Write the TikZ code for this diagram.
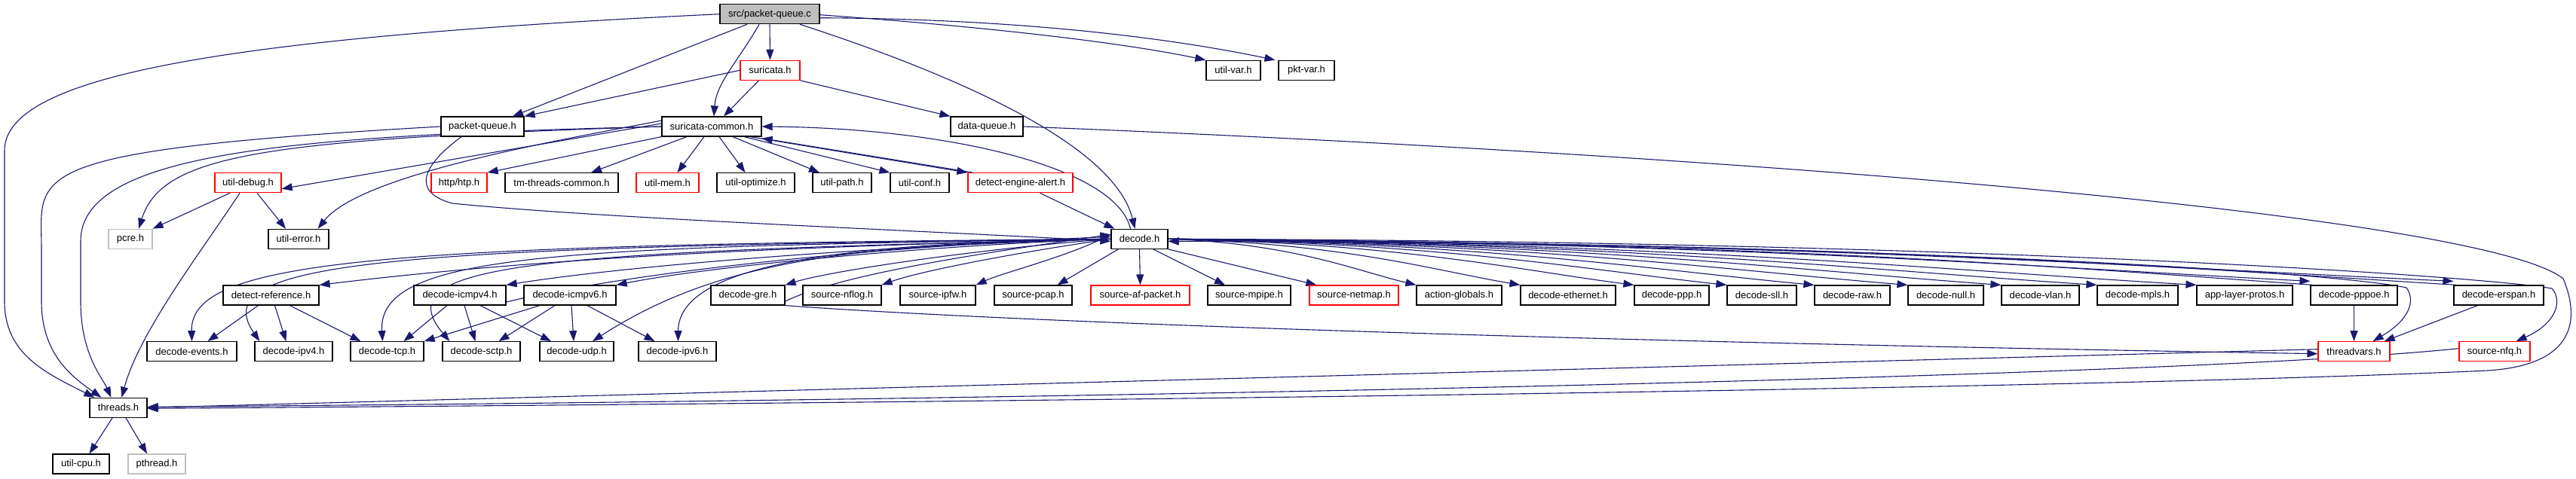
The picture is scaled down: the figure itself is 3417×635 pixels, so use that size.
\documentclass[tikz,border=0pt]{standalone}
\usepackage{fontspec}
\setmainfont{Liberation Sans}
\usetikzlibrary{arrows.meta}
\definecolor{edgecol}{HTML}{191970}
\definecolor{rootfill}{HTML}{BFBFBF}
\definecolor{extcol}{HTML}{BFBFBF}
\pgfdeclarelayer{bg}
\pgfsetlayers{bg,main}
\begin{document}
\begin{tikzpicture}[x=1pt,y=-1pt,
  box/.style={draw=black, line width=1.2pt, minimum height=26pt, inner sep=0pt, fill=white, font=\fontsize{13}{15}\selectfont},
  redbox/.style={box, draw=red},
  greybox/.style={box, draw=extcol},
  rootbox/.style={box, fill=rootfill},
  dep/.style={draw=edgecol, line width=1.1pt, -{Triangle[length=14pt,width=10pt]}},
]
\useasboundingbox (0,0) rectangle (3417,635);
% row 0
\node[rootbox, minimum width=132pt] (root) at (1021,18.7) {src/packet-queue.c};
% row 1
\node[redbox, minimum width=79pt] (suricata) at (1021.5,93.3) {suricata.h};
\node[box, minimum width=72pt] (utilvar) at (1636,93.3) {util-var.h};
\node[box, minimum width=74pt] (pktvar) at (1733,93.3) {pkt-var.h};
% row 2
\node[box, minimum width=110pt] (pq) at (640,168) {packet-queue.h};
\node[box, minimum width=132pt] (sc) at (944,168) {suricata-common.h};
\node[box, minimum width=96pt] (dq) at (1309,168) {data-queue.h};
% row 3
\node[redbox, minimum width=88pt] (udebug) at (329,242.7) {util-debug.h};
\node[redbox, minimum width=74pt] (htp) at (609,242.7) {http/htp.h};
\node[box, minimum width=150pt] (tmtc) at (745,242.7) {tm-threads-common.h};
\node[redbox, minimum width=83pt] (umem) at (885.5,242.7) {util-mem.h};
\node[box, minimum width=103pt] (uopt) at (1002.5,242.7) {util-optimize.h};
\node[box, minimum width=78pt] (upath) at (1117,242.7) {util-path.h};
\node[box, minimum width=78pt] (uconf) at (1220,242.7) {util-conf.h};
\node[redbox, minimum width=139pt] (dea) at (1353.5,242.7) {detect-engine-alert.h};
% row 4
\node[greybox, minimum width=58pt] (pcre) at (173,317.3) {pcre.h};
\node[box, minimum width=80pt] (uerr) at (396,317.3) {util-error.h};
\node[box, minimum width=75pt] (decode) at (1511.5,317.3) {decode.h};
% row 5
\node[box, minimum width=127pt] (dref) at (359.5,392) {detect-reference.h};
\node[box, minimum width=122pt] (icmpA) at (610,392) {decode-icmpv4.h};
\node[box, minimum width=122pt] (icmpB) at (756,392) {decode-icmpv6.h};
\node[box, minimum width=98pt] (gre) at (992,392) {decode-gre.h};
\node[box, minimum width=104pt] (nflog) at (1117,392) {source-nflog.h};
\node[box, minimum width=100pt] (ipfw) at (1244,392) {source-ipfw.h};
\node[box, minimum width=103pt] (pcap) at (1370.5,392) {source-pcap.h};
\node[redbox, minimum width=131pt] (afp) at (1512.5,392) {source-af-packet.h};
\node[box, minimum width=110pt] (mpipe) at (1657,392) {source-mpipe.h};
\node[redbox, minimum width=118pt] (netmap) at (1796,392) {source-netmap.h};
\node[box, minimum width=113pt] (actg) at (1935.5,392) {action-globals.h};
\node[box, minimum width=126pt] (deth) at (2080,392) {decode-ethernet.h};
\node[box, minimum width=99pt] (dppp) at (2217.5,392) {decode-ppp.h};
\node[box, minimum width=92pt] (dsll) at (2337,392) {decode-sll.h};
\node[box, minimum width=100pt] (draw) at (2457,392) {decode-raw.h};
\node[box, minimum width=100pt] (dnull) at (2581,392) {decode-null.h};
\node[box, minimum width=103pt] (dvlan) at (2706.5,392) {decode-vlan.h};
\node[box, minimum width=107pt] (dmpls) at (2835.5,392) {decode-mpls.h};
\node[box, minimum width=127pt] (alp) at (2977.5,392) {app-layer-protos.h};
\node[box, minimum width=115pt] (pppoe) at (3122.5,392) {decode-pppoe.h};
\node[box, minimum width=119pt] (erspan) at (3314.5,392) {decode-erspan.h};
% row 6
\node[box, minimum width=119pt] (devents) at (254.5,466.7) {decode-events.h};
\node[box, minimum width=103pt] (ipvA) at (389.5,466.7) {decode-ipv4.h};
\node[box, minimum width=97pt] (tcp) at (513.5,466.7) {decode-tcp.h};
\node[box, minimum width=103pt] (sctp) at (638.5,466.7) {decode-sctp.h};
\node[box, minimum width=98pt] (udp) at (765,466.7) {decode-udp.h};
\node[box, minimum width=103pt] (ipvB) at (898.5,466.7) {decode-ipv6.h};
\node[redbox, minimum width=95pt] (tvars) at (3122.5,466.7) {threadvars.h};
\node[redbox, minimum width=94pt] (nfq) at (3309,466.7) {source-nfq.h};
% row 7
\node[box, minimum width=76pt] (threads) at (157,541.3) {threads.h};
% row 8
\node[box, minimum width=75pt] (ucpu) at (107.5,616) {util-cpu.h};
\node[greybox, minimum width=76pt] (pthread) at (208,616) {pthread.h};

\begin{pgfonlayer}{bg}
% root
\draw[dep] (root.west) .. controls (300,50) and (6,100) .. (6,200) -- (6,400) .. controls (6,470) and (60,495) .. ([xshift=7]threads.north west);
\draw[dep] ([xshift=-30]root.south) -- ([xshift=40]pq.north);
\draw[dep] ([xshift=-14]root.south) .. controls (980,80) and (950,110) .. ([xshift=3]sc.north);
\draw[dep] (root.south) -- (suricata.north);
\draw[dep] ([xshift=40]root.south) .. controls (1300,110) and (1480,200) .. ([xshift=-6]decode.north);
\draw[dep] ([yshift=-1]root.east) .. controls (1300,35) and (1480,55) .. (utilvar.north west);
\draw[dep] ([yshift=-5]root.east) .. controls (1350,25) and (1550,50) .. ([xshift=-4]pktvar.north west);
% suricata.h
\draw[dep] (suricata.west) -- (pq.north east);
\draw[dep] ([xshift=-15]suricata.south) -- ([xshift=16]sc.north);
\draw[dep] (suricata.south east) -- (dq.north west);
% packet-queue.h
\draw[dep] (pq.west) .. controls (20,200) and (55,230) .. (55,330) -- (55,400) .. controls (55,470) and (95,500) .. ([xshift=16]threads.north west);
\draw[dep] ([xshift=-28]pq.south) .. controls (560,220) and (545,255) .. (600,270) .. controls (800,290) and (1200,305) .. ([yshift=-3]decode.west);
% suricata-common.h
\draw[dep] (sc.west) .. controls (400,180) and (107,200) .. (107,320) -- (107,400) .. controls (107,470) and (135,500) .. ([xshift=29]threads.north west);
\draw[dep] (sc.west) .. controls (350,185) and (215,205) .. ([xshift=11]pcre.north);
\draw[dep] ([yshift=4]sc.west) -- ([yshift=-8]udebug.east);
\draw[dep] ([yshift=8]sc.west) .. controls (750,185) and (480,230) .. ([xshift=-15]uerr.north east);
\draw[dep] (sc.south west) -- (htp.north east);
\draw[dep] ([xshift=-33]sc.south) -- ([xshift=39]tmtc.north);
\draw[dep] ([xshift=-10]sc.south) -- ([xshift=13]umem.north);
\draw[dep] ([xshift=10]sc.south) -- ([xshift=-14]uopt.north);
\draw[dep] ([xshift=28]sc.south) -- ([xshift=-30]upath.north);
\draw[dep] ([xshift=43]sc.south) -- (uconf.north west);
\draw[dep] ([xshift=51]sc.south) -- (dea.north west);
\draw[dep] ([xshift=7]dea.north west) -- ([yshift=-2]sc.south east);
\draw[dep] ([xshift=26]dea.south) -- ([xshift=5]decode.north west);
\draw[dep] ([xshift=-12]decode.north) .. controls (1480,220) and (1250,170) .. (sc.east);
% util-debug.h
\draw[dep] ([xshift=-24]udebug.south) -- (pcre.north east);
\draw[dep] ([xshift=12]udebug.south) -- ([xshift=-17]uerr.north);
\draw[dep] ([xshift=-11]udebug.south) .. controls (270,330) and (185,440) .. ([xshift=43]threads.north west);
% data-queue.h
\draw[dep] (dq.east) .. controls (2400,210) and (3300,290) .. (3400,370) .. controls (3425,430) and (3410,485) .. (3300,492) .. controls (2800,515) and (1500,533) .. ([yshift=-1]threads.east);
% threadvars / nfq -> threads
\draw[dep] ([yshift=3]tvars.west) -- (threads.east);
\draw[dep] ([yshift=4]nfq.west) .. controls (2900,500) and (1500,530) .. ([yshift=1]threads.east);
% gre -> threadvars
\draw[dep] (gre.south east) .. controls (1300,425) and (2000,452) .. ([yshift=-3]tvars.west);
% decode -> left row 5
\draw[dep] (decode.west) .. controls (1000,328) and (700,345) .. (dref.north east);
\draw[dep] (decode.west) .. controls (1200,325) and (850,350) .. (icmpA.north east);
\draw[dep] ([yshift=-9]icmpA.east) .. controls (860,356) and (1200,326) .. ([yshift=3]decode.west);
\draw[dep] (decode.west) .. controls (1250,325) and (950,352) .. (icmpB.north east);
\draw[dep] (decode.west) .. controls (1300,330) and (1100,360) .. (gre.north east);
\draw[dep] ([yshift=-8]gre.east) .. controls (1120,362) and (1320,334) .. ([yshift=6]decode.west);
\draw[dep] (decode.west) .. controls (1350,335) and (1220,360) .. (nflog.north east);
\draw[dep] ([yshift=6]decode.west) .. controls (1420,340) and (1330,362) .. (ipfw.north east);
\draw[dep] ([xshift=10]decode.south west) -- ([xshift=32]pcap.north);
% decode -> left row 6
\draw[dep] (decode.west) .. controls (500,325) and (252,345) .. (devents.north);
\draw[dep] (decode.west) .. controls (520,328) and (270,345) .. ([xshift=7]ipvA.north west);
\draw[dep] (decode.west) .. controls (750,328) and (500,335) .. ([xshift=-6]tcp.north);
\draw[dep] (decode.west) .. controls (700,335) and (510,350) .. ([xshift=10]sctp.north west);
\draw[dep] (decode.west) .. controls (1150,325) and (960,340) .. ([xshift=21]udp.north);
\draw[dep] (decode.west) .. controls (1150,322) and (900,345) .. ([xshift=1]ipvB.north);
% decode -> right row 5
\draw[dep] (decode.south) -- (afp.north);
\draw[dep] ([xshift=-20]decode.south east) -- ([xshift=-32]mpipe.north);
\draw[dep] (decode.south east) -- ([xshift=10]netmap.north west);
\draw[dep] (decode.east) .. controls +(165,6) and +(-83,-20) .. (actg.north west);
\draw[dep] (decode.east) .. controls +(234,6) and +(-117,-20) .. (deth.north west);
\draw[dep] (decode.east) .. controls +(310,6) and +(-155,-20) .. (dppp.north west);
\draw[dep] (decode.east) .. controls +(371,6) and +(-186,-20) .. (dsll.north west);
\draw[dep] (decode.east) .. controls +(429,6) and +(-215,-20) .. (draw.north west);
\draw[dep] (decode.east) .. controls +(491,6) and +(-246,-20) .. (dnull.north west);
\draw[dep] (decode.east) .. controls +(553,6) and +(-277,-20) .. (dvlan.north west);
\draw[dep] (decode.east) .. controls +(617,6) and +(-308,-20) .. (dmpls.north west);
\draw[dep] (decode.east) .. controls +(683,6) and +(-341,-20) .. (alp.north west);
\draw[dep] (decode.east) .. controls +(758,6) and +(-379,-20) .. ([yshift=5]pppoe.north west);
\draw[dep] ([xshift=4]pppoe.north west) .. controls +(-379,-27) and +(758,0) .. ([yshift=-3]decode.east);
\draw[dep] (decode.east) .. controls +(853,6) and +(-427,-20) .. ([yshift=5]erspan.north west);
\draw[dep] ([xshift=4]erspan.north west) .. controls +(-427,-27) and +(853,0) .. ([yshift=-3]decode.east);
\draw[dep] (decode.east) .. controls +(1000,8) and (3100,362) .. (3192,382) .. controls (3205,400) and (3195,425) .. ([xshift=-23]tvars.north east);
\draw[dep] (decode.east) .. controls +(1100,3) and (3300,368) .. (3385,383) .. controls (3400,400) and (3390,430) .. ([xshift=-19]nfq.north east);
% row 5 -> row 6
\draw[dep] ([xshift=-17]dref.south) -- ([xshift=21]devents.north);
\draw[dep] ([xshift=5]dref.south) -- ([xshift=-10]ipvA.north);
\draw[dep] ([xshift=25]dref.south) -- ([xshift=-35]tcp.north);
\draw[dep] ([xshift=-17]icmpA.south) -- ([xshift=22]tcp.north);
\draw[dep] ([xshift=6]icmpA.south) -- ([xshift=-8]sctp.north);
\draw[dep] ([xshift=27]icmpA.south) -- ([xshift=-34]udp.north);
\draw[dep] ([xshift=-40]icmpB.south) -- (tcp.north east);
\draw[dep] ([xshift=-20]icmpB.south) -- ([xshift=23]sctp.north);
\draw[dep] ([xshift=2]icmpB.south) -- ([xshift=-4]udp.north);
\draw[dep] ([xshift=23]icmpB.south) -- ([xshift=-30]ipvB.north);
\draw[dep] (pppoe.south) -- (tvars.north);
\draw[dep] ([xshift=-28]erspan.south) -- ([xshift=-8]tvars.north east);
% threads
\draw[dep] ([xshift=-8]threads.south) -- ([xshift=11]ucpu.north);
\draw[dep] ([xshift=10]threads.south) -- ([xshift=-13]pthread.north);
\end{pgfonlayer}
\end{tikzpicture}
\end{document}
